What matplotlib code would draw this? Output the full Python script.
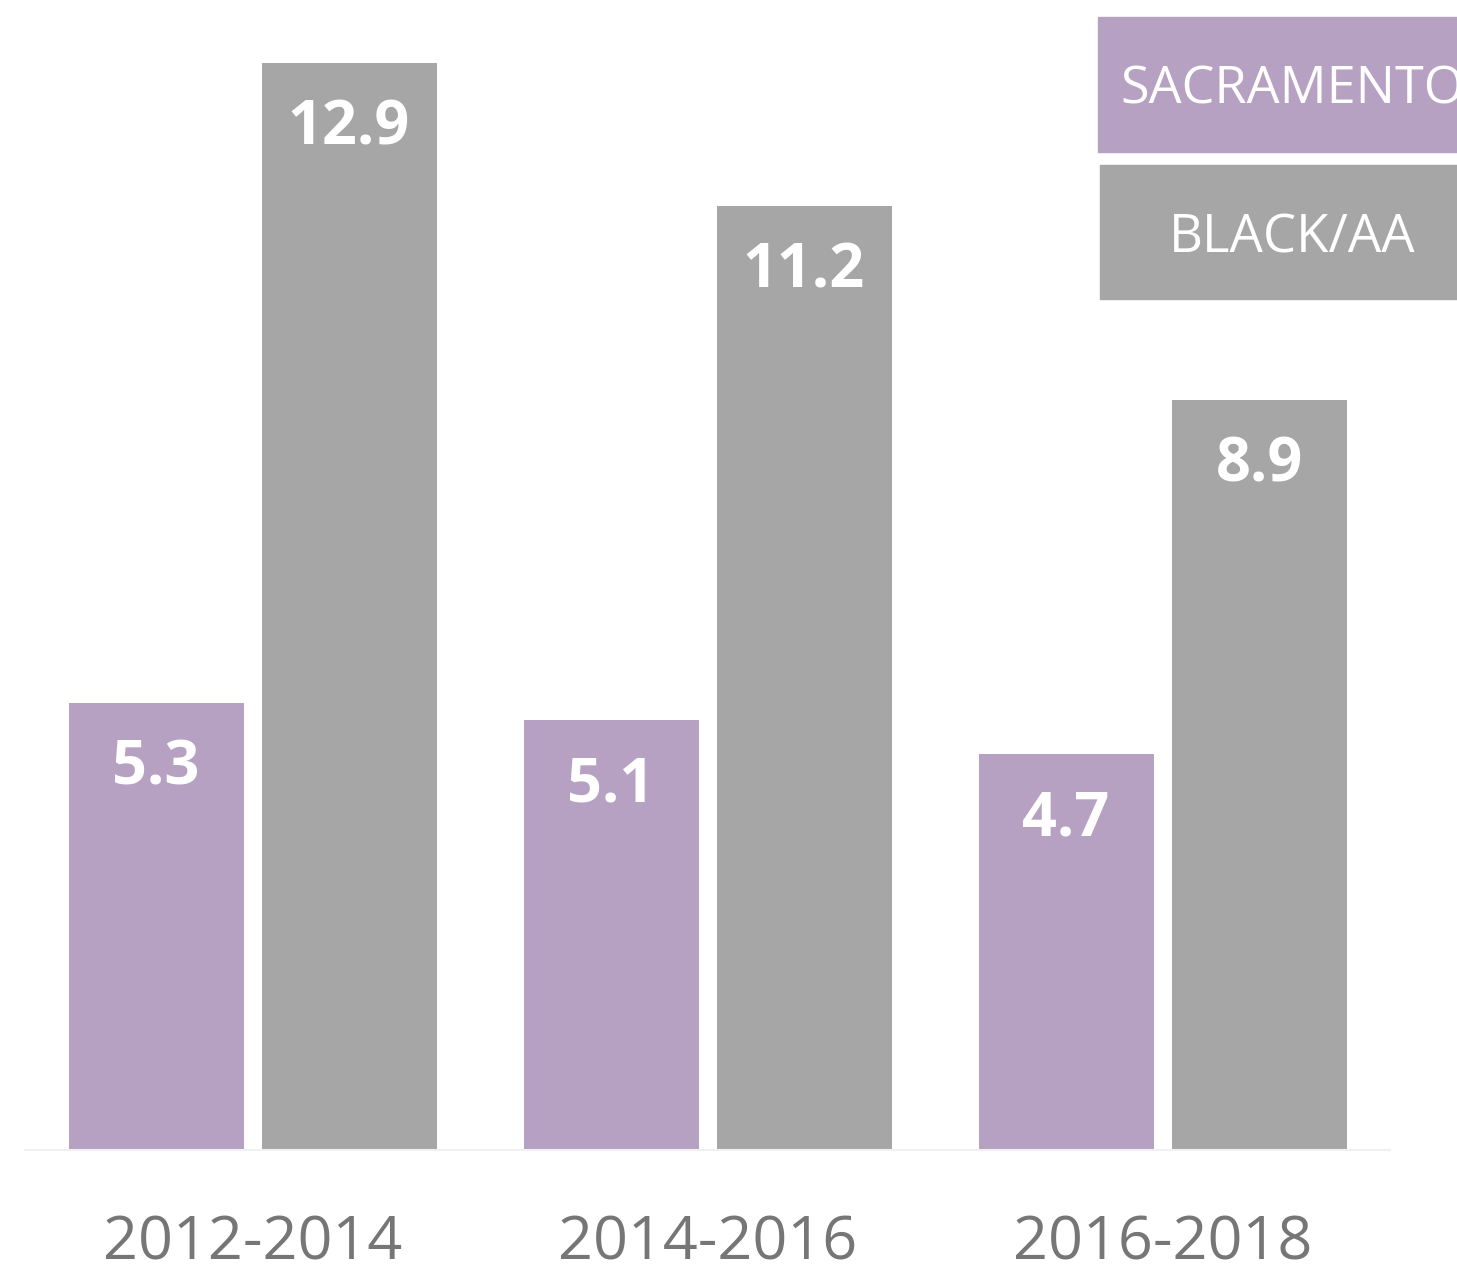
import matplotlib.pyplot as plt
import matplotlib.patches as mpatches
import numpy as np

periods = ['2012-2014', '2014-2016', '2016-2018']
series_names = ['SACRAMENTO', 'BLACK/AA']
sacramento = [5.3, 5.1, 4.7]
black_aa = [12.9, 11.2, 8.9]

purple = '#b7a1c2'
grey = '#a6a6a6'

plt.rcParams['font.family'] = ['Open Sans', 'DejaVu Sans']

W, H = 1457, 1274
fig = plt.figure(figsize=(W/100, H/100), dpi=100)
ax = fig.add_axes([25/W, 124/H, 1365/W, 1150/H])

x = np.arange(len(periods))
bw = 175/455
off = 96.5/455
b1 = ax.bar(x - off, sacramento, bw, color=purple)
b2 = ax.bar(x + off, black_aa, bw, color=grey)

ax.set_xlim(-0.5, 2.5)
ax.set_ylim(0, 1150/84.26)

# value labels inside the bars, near the top
for bars, vals in ((b1, sacramento), (b2, black_aa)):
    for r, v in zip(bars, vals):
        ax.annotate(f'{v}', (r.get_x() + r.get_width()/2, v),
                    xytext=(0, -66*0.72), textcoords='offset points',
                    ha='center', va='center', color='white',
                    fontsize=44, fontweight='bold')

for s in ['top', 'right', 'left']:
    ax.spines[s].set_visible(False)
ax.spines['bottom'].set_color('#f0f0f0')
ax.spines['bottom'].set_linewidth(1.5)
ax.set_yticks([])
ax.set_xticks(x)
ax.set_xticklabels(periods, fontsize=44, color='#767676')
ax.tick_params(axis='x', length=0, pad=46)

# legend boxes at top right (the first label runs past the edge, as in the source)
fig.patches.append(mpatches.Rectangle((1098/W, 1-152/H), 359/W, 135/H,
                                      transform=fig.transFigure, color=purple))
fig.patches.append(mpatches.Rectangle((1100/W, 1-299/H), 357/W, 134/H,
                                      transform=fig.transFigure, color=grey))
fig.text(1120/W, 1-90/H, series_names[0], color='white', fontsize=37.5,
         ha='left', va='center')
fig.text(1292/W, 1-239/H, series_names[1], color='white', fontsize=38,
         ha='center', va='center')

fig.savefig('out.png', dpi=100)
